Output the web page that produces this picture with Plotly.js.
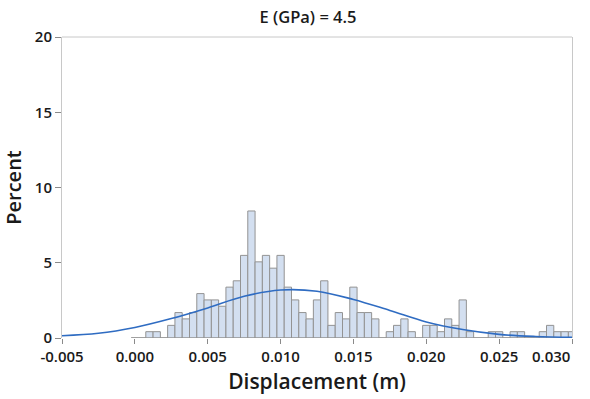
<!DOCTYPE html>
<html>
<head>
<meta charset="utf-8">
<script src="https://cdn.plot.ly/plotly-3.0.1.min.js"></script>
<style>
  html, body { margin: 0; padding: 0; background: #ffffff; }
  #chart { width: 590px; height: 399px; }
</style>
</head>
<body>
<div id="chart"></div>
<script>
// Histogram bins (centers, m) and bar heights (percent)
const binCenters = [
  0.0000, 0.0005, 0.0010, 0.0015, 0.0020, 0.0025, 0.0030, 0.0035, 0.0040, 0.0045,
  0.0050, 0.0055, 0.0060, 0.0065, 0.0070, 0.0075, 0.0080, 0.0085, 0.0090, 0.0095,
  0.0100, 0.0105, 0.0110, 0.0115, 0.0120, 0.0125, 0.0130, 0.0135, 0.0140, 0.0145,
  0.0150, 0.0155, 0.0160, 0.0165, 0.0170, 0.0175, 0.0180, 0.0185, 0.0190, 0.0195,
  0.0200, 0.0205, 0.0210, 0.0215, 0.0220, 0.0225, 0.0230, 0.0235, 0.0240, 0.0245,
  0.0250, 0.0255, 0.0260, 0.0265, 0.0270, 0.0275, 0.0280, 0.0285, 0.0290, 0.0295,
  0.0300
];
const binPercent = [
  0,    0,    0.42, 0.42, 0,    0.84, 1.69, 1.27, 1.69, 2.95,
  2.53, 2.53, 2.11, 3.38, 3.80, 5.49, 8.44, 5.06, 5.49, 4.64,
  5.49, 3.38, 2.53, 1.69, 1.27, 2.53, 3.80, 0.84, 1.69, 1.27,
  3.38, 1.69, 1.69, 1.27, 0,    0.42, 0.84, 1.27, 0.42, 0,
  0.84, 0.84, 0.42, 1.27, 0.84, 2.53, 0.42, 0,    0,    0.42,
  0.42, 0,    0.42, 0.42, 0,    0,    0.42, 0.84, 0.42, 0.42,
  0.42
];
const binWidth = 0.0005;

// Fitted distribution curve (x in m, percent)
const fitX = [-0.005, -0.0025, 0.000, 0.0025, 0.005, 0.0075, 0.010, 0.0125,
              0.015, 0.0175, 0.020, 0.0225, 0.025, 0.0275, 0.030];
const fitY = [0.15, 0.31, 0.70, 1.29, 2.00, 2.77, 3.19, 3.11,
              2.56, 1.83, 1.07, 0.56, 0.24, 0.10, 0.04];

// Axis ticks
const xTickVals = [-0.005, 0.000, 0.005, 0.010, 0.015, 0.020, 0.025, 0.030];
const xTickText = ["-0.005", "0.000", "0.005", "0.010", "0.015", "0.020", "0.025", "0.030"];
const yTickVals = [0, 5, 10, 15, 20];

const chartTitle = "E (GPa) = 4.5";
const xTitle = "Displacement (m)";
const yTitle = "Percent";

const FONT = "Open Sans, Noto Sans, DejaVu Sans, sans-serif";
const GRID = "#c8c8c8";
const TICKFONT = { family: FONT, size: 15, weight: 600, color: "#1a1a1a" };

// last label is drawn right-aligned at the plot edge (as in the original)
const lastIdx = xTickVals.length - 1;
const shownTickText = xTickText.map((t, i) => (i === lastIdx ? "" : t));

const bars = {
  type: "bar",
  x: binCenters,
  y: binPercent,
  width: binWidth,
  marker: { color: "#d3dff0", line: { color: "#939393", width: 1 } },
  hoverinfo: "x+y",
  showlegend: false
};

// zero-level outline along the histogram range
const baseline = {
  type: "scatter",
  mode: "lines",
  x: [binCenters[0] - binWidth / 2, binCenters[binCenters.length - 1] + binWidth / 2],
  y: [0, 0],
  line: { color: "#939393", width: 1 },
  hoverinfo: "skip",
  showlegend: false
};

const curve = {
  type: "scatter",
  mode: "lines",
  x: fitX,
  y: fitY,
  line: { color: "#2f6cc2", width: 1.6, shape: "spline", smoothing: 1 },
  showlegend: false
};

const layout = {
  width: 590,
  height: 399,
  margin: { l: 62, r: 18, t: 37, b: 61 },
  paper_bgcolor: "#ffffff",
  plot_bgcolor: "#ffffff",
  bargap: 0,
  font: { family: FONT, color: "#1a1a1a" },
  title: {
    text: chartTitle,
    font: { family: FONT, size: 16.5, weight: 600, color: "#1a1a1a" },
    xref: "container", x: 0.522, xanchor: "center",
    yref: "container", y: 0.957, yanchor: "middle"
  },
  xaxis: {
    range: [-0.005, 0.030],
    tickmode: "array",
    tickvals: xTickVals,
    ticktext: shownTickText,
    ticks: "outside",
    ticklen: 5,
    tickcolor: "#8a8a8a",
    tickfont: TICKFONT,
    showgrid: false,
    zeroline: false,
    showline: false,
    title: {
      text: xTitle,
      font: { family: FONT, size: 21, weight: 600, color: "#1a1a1a" },
      standoff: 9
    },
    fixedrange: true
  },
  yaxis: {
    range: [0, 20],
    tickmode: "array",
    tickvals: yTickVals,
    ticks: "outside",
    ticklen: 6,
    tickcolor: "#8a8a8a",
    tickfont: TICKFONT,
    showgrid: false,
    zeroline: false,
    showline: true,
    mirror: true,
    linecolor: GRID,
    linewidth: 1,
    title: {
      text: yTitle,
      font: { family: FONT, size: 20, weight: 600, color: "#1a1a1a" },
      standoff: 12
    },
    fixedrange: true
  },
  annotations: [
    { text: xTickText[lastIdx], x: xTickVals[lastIdx], xref: "x", xanchor: "right",
      y: 0, yref: "paper", yanchor: "top", yshift: -6, showarrow: false,
      font: TICKFONT }
  ],
  shapes: [
    { type: "line", xref: "paper", yref: "paper", x0: 0, x1: 1, y0: 1, y1: 1,
      line: { color: GRID, width: 1 } }
  ]
};

Plotly.newPlot("chart", [bars, baseline, curve], layout, { displayModeBar: false, staticPlot: true });
</script>
</body>
</html>
